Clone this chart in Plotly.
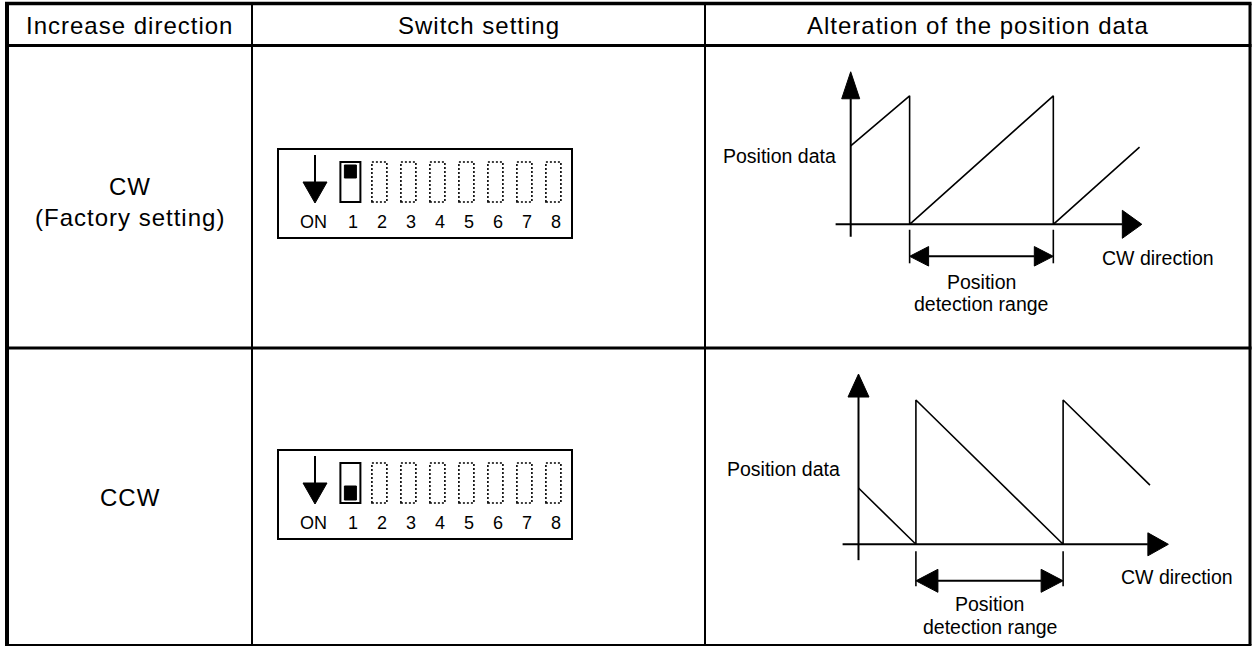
import plotly.graph_objects as go

W, H = 1252, 647
FONT = "Liberation Sans, Arial, Helvetica, sans-serif"

# ---------------- data ----------------
headers = ["Increase direction", "Switch setting", "Alteration of the position data"]
row_titles = [["CW", "(Factory setting)"], ["CCW"]]
switch_numbers = [1, 2, 3, 4, 5, 6, 7, 8]
switch_on_label = "ON"
switch1_is_on = [False, True]          # CW row: OFF (knob up), CCW row: ON (knob down)

# waveform: x in units of one detection range, y as fraction of full scale
cw_x = [0.0, 0.41, 0.41, 1.41, 1.41, 2.01]
cw_y = [0.61, 1.0, 0.0, 1.0, 0.0, 0.60]
ccw_x = [0.0, 0.39, 0.39, 1.39, 1.39, 1.98]
ccw_y = [0.39, 0.0, 1.0, 0.0, 1.0, 0.41]
range_start = [0.41, 0.39]
range_end = [1.41, 1.39]
ylabel_text = "Position data"
xlabel_text = "CW direction"
range_text = ["Position", "detection range"]

# ---------------- geometry (pixels) ----------------
col_x = [7, 252, 705, 1250]
row_y = [3.5, 45.5, 348, 645]

fig = go.Figure()
layout_axes = {}


def px2paper_x(p):
    return p / W


def px2paper_y(p):
    return 1 - p / H


def add_axes(n, p0x, sx, p0y, sy, L, R, T, B):
    """axis n: data x -> pixel p0x + sx*x ; data y -> pixel p0y - sy*y"""
    xa = dict(domain=[px2paper_x(L), px2paper_x(R)],
              range=[(L - p0x) / sx, (R - p0x) / sx],
              visible=False, fixedrange=True)
    ya = dict(domain=[px2paper_y(B), px2paper_y(T)],
              range=[(p0y - B) / sy, (p0y - T) / sy],
              visible=False, fixedrange=True)
    k = "" if n == 1 else str(n)
    layout_axes["xaxis" + k] = dict(xa, anchor="y" + k)
    layout_axes["yaxis" + k] = dict(ya, anchor="x" + k)
    return "x" + k, "y" + k


def tri(xr, yr, pts):
    xs = [p[0] for p in pts] + [pts[0][0]]
    ys = [p[1] for p in pts] + [pts[0][1]]
    fig.add_trace(go.Scatter(x=xs, y=ys, xaxis=xr, yaxis=yr, mode="lines",
                             fill="toself", fillcolor="black",
                             line=dict(color="black", width=1),
                             hoverinfo="skip", showlegend=False))


def line(xr, yr, xs, ys, w):
    fig.add_trace(go.Scatter(x=xs, y=ys, xaxis=xr, yaxis=yr, mode="lines",
                             line=dict(color="black", width=w),
                             hoverinfo="skip", showlegend=False))


annotations = []
shapes = []


def spaced(s, ls):
    if ls:
        return '<span style="letter-spacing:%spx">%s</span>' % (ls, s)
    return s


def text(xr, yr, x, y, s, size, xanchor="center", ls=0):
    annotations.append(dict(x=x, y=y, xref=xr, yref=yr, text=spaced(s, ls), showarrow=False,
                            xanchor=xanchor, yanchor="middle",
                            font=dict(family=FONT, size=size, color="black")))


# ---------------- waveform panels ----------------
panels = [
    dict(p0x=850.7, sx=143.7, p0y=224.3, sy=128.5, T=row_y[1], B=row_y[2],
         xs=cw_x, ys=cw_y, yax=(-0.096, 1.187), xax=(-0.105, 2.026),
         yhead=(18, 27), xhead=(28, 19.5), rhead=(19.5, 19),
         tick=(5.5, 39), rarrow=32, ylab_dx=-13, ylab_y=155.6,
         xlab=(1100, 257.7), rtext=(282, 304)),
    dict(p0x=858.5, sx=147.2, p0y=544.3, sy=144.3, T=row_y[2], B=row_y[3],
         xs=ccw_x, ys=ccw_y, yax=(-0.11, 1.18), xax=(-0.108, 2.105),
         yhead=(21, 23), xhead=(23, 20.5), rhead=(23, 22),
         tick=(7, 42), rarrow=36.5, ylab_dx=-17, ylab_y=469,
         xlab=(1119, 577), rtext=(604, 627)),
]

for i, P in enumerate(panels):
    xr, yr = add_axes(2 + i, P["p0x"], P["sx"], P["p0y"], P["sy"],
                      col_x[2], col_x[3], P["T"], P["B"])
    ux = 1.0 / P["sx"]   # data units per pixel (x)
    uy = 1.0 / P["sy"]   # data units per pixel (y)
    # y axis with arrow
    yb, yt = P["yax"]
    hw, hl = P["yhead"]
    line(xr, yr, [0, 0], [yb, yt - hl * uy], 2)
    tri(xr, yr, [(-hw / 2 * ux, yt - hl * uy), (hw / 2 * ux, yt - hl * uy), (0, yt)])
    # x axis with arrow
    xl, xt = P["xax"]
    hw, hl = P["xhead"]
    line(xr, yr, [xl, xt - hl * ux], [0, 0], 2)
    tri(xr, yr, [(xt - hl * ux, hw / 2 * uy), (xt - hl * ux, -hw / 2 * uy), (xt, 0)])
    # sawtooth
    line(xr, yr, P["xs"], P["ys"], 1.6)
    # detection range markers
    a, b = range_start[i], range_end[i]
    t0, t1 = P["tick"]
    for xx in (a, b):
        line(xr, yr, [xx, xx], [-t0 * uy, -t1 * uy], 1.6)
    ya = -P["rarrow"] * uy
    hw, hl = P["rhead"]
    line(xr, yr, [a + hl * ux, b - hl * ux], [ya, ya], 2)
    tri(xr, yr, [(a, ya), (a + hl * ux, ya + hw / 2 * uy), (a + hl * ux, ya - hw / 2 * uy)])
    tri(xr, yr, [(b, ya), (b - hl * ux, ya + hw / 2 * uy), (b - hl * ux, ya - hw / 2 * uy)])
    # labels
    text(xr, yr, P["ylab_dx"] * ux, (P["p0y"] - P["ylab_y"]) * uy, ylabel_text, 19.5, "right")
    text(xr, yr, (P["xlab"][0] - P["p0x"]) * ux, (P["p0y"] - P["xlab"][1]) * uy,
         xlabel_text, 19.5, "left")
    for s, py in zip(range_text, P["rtext"]):
        text(xr, yr, (a + b) / 2, (P["p0y"] - py) * uy, s, 19.5)

# ---------------- switch panels ----------------
sw_p0x, sw_sx = 321.4, 29.0       # pixel of index 0, pixels per switch
sw_bottoms = [202, 503]           # pixel bottom of switch bodies per row
sw_h = 40.0
for i, on in enumerate(switch1_is_on):
    T, B = row_y[1 + i], row_y[2 + i]
    xr, yr = add_axes(4 + i, sw_p0x, sw_sx, sw_bottoms[i], sw_h,
                      col_x[1], col_x[2], T, B)
    ux = 1.0 / sw_sx
    uy = 1.0 / sw_h
    # frame
    shapes.append(dict(type="rect", xref=xr, yref=yr, x0=(278 - sw_p0x) * ux,
                       x1=(572 - sw_p0x) * ux, y0=-36 * uy, y1=53 * uy,
                       line=dict(color="black", width=2)))
    # ON arrow
    ax = (315 - sw_p0x) * ux
    line(xr, yr, [ax, ax], [1 + 7 * uy, 0.5], 2)
    tri(xr, yr, [(ax - 12 * ux, 0.5), (ax + 12 * ux, 0.5), (ax, -1 * uy)])
    for n in switch_numbers:
        if n == 1:
            shapes.append(dict(type="rect", xref=xr, yref=yr, x0=n - 10 * ux,
                               x1=n + 10 * ux, y0=0, y1=1,
                               line=dict(color="black", width=2)))
            ky = (0.075, 0.425) if on else (0.6, 0.925)
            shapes.append(dict(type="rect", xref=xr, yref=yr, x0=n - 6 * ux,
                               x1=n + 6 * ux, y0=ky[0], y1=ky[1],
                               fillcolor="black", line=dict(color="black", width=1)))
        else:
            shapes.append(dict(type="rect", xref=xr, yref=yr, x0=n - 7.5 * ux,
                               x1=n + 7.5 * ux, y0=0, y1=1,
                               line=dict(color="black", width=1.6, dash="2px,2px")))
        text(xr, yr, n + 3 * ux, -20 * uy, str(n), 18)
    text(xr, yr, (313 - sw_p0x) * ux, -20 * uy, switch_on_label, 18)

# ---------------- table grid & text ----------------
def hline(py, w, x0=col_x[0], x1=col_x[3]):
    shapes.append(dict(type="line", xref="paper", yref="paper", x0=px2paper_x(x0 - 2),
                       x1=px2paper_x(x1 + 1.5), y0=px2paper_y(py), y1=px2paper_y(py),
                       line=dict(color="black", width=w)))


def vline(px, w):
    shapes.append(dict(type="line", xref="paper", yref="paper", x0=px2paper_x(px),
                       x1=px2paper_x(px), y0=px2paper_y(row_y[0]), y1=px2paper_y(row_y[3]),
                       line=dict(color="black", width=w)))


hline(row_y[0], 3.5)
hline(row_y[1], 3)
hline(row_y[2], 3)
hline(row_y[3], 2)
vline(col_x[0], 4)
vline(col_x[1], 2)
vline(col_x[2], 2)
vline(col_x[3], 3)


def ptext(px, py, s, size, ls=1):
    annotations.append(dict(x=px2paper_x(px), y=px2paper_y(py), xref="paper", yref="paper",
                            text=spaced(s, ls), showarrow=False, xanchor="center",
                            yanchor="middle",
                            font=dict(family=FONT, size=size, color="black")))


for j, h in enumerate(headers):
    ptext((col_x[j] + col_x[j + 1]) / 2, 25.5, h, 24)
ptext((col_x[0] + col_x[1]) / 2, 187, row_titles[0][0], 24)
ptext((col_x[0] + col_x[1]) / 2, 218, row_titles[0][1], 24)
ptext((col_x[0] + col_x[1]) / 2, 497, row_titles[1][0], 24)

fig.update_layout(width=W, height=H, autosize=False,
                  margin=dict(l=0, r=0, t=0, b=0),
                  paper_bgcolor="white", plot_bgcolor="white",
                  showlegend=False, shapes=shapes, annotations=annotations,
                  **layout_axes)

fig.write_html("out.html", config={"displayModeBar": False},
               post_script="document.body.style.margin='0';document.body.style.overflow='hidden';")
